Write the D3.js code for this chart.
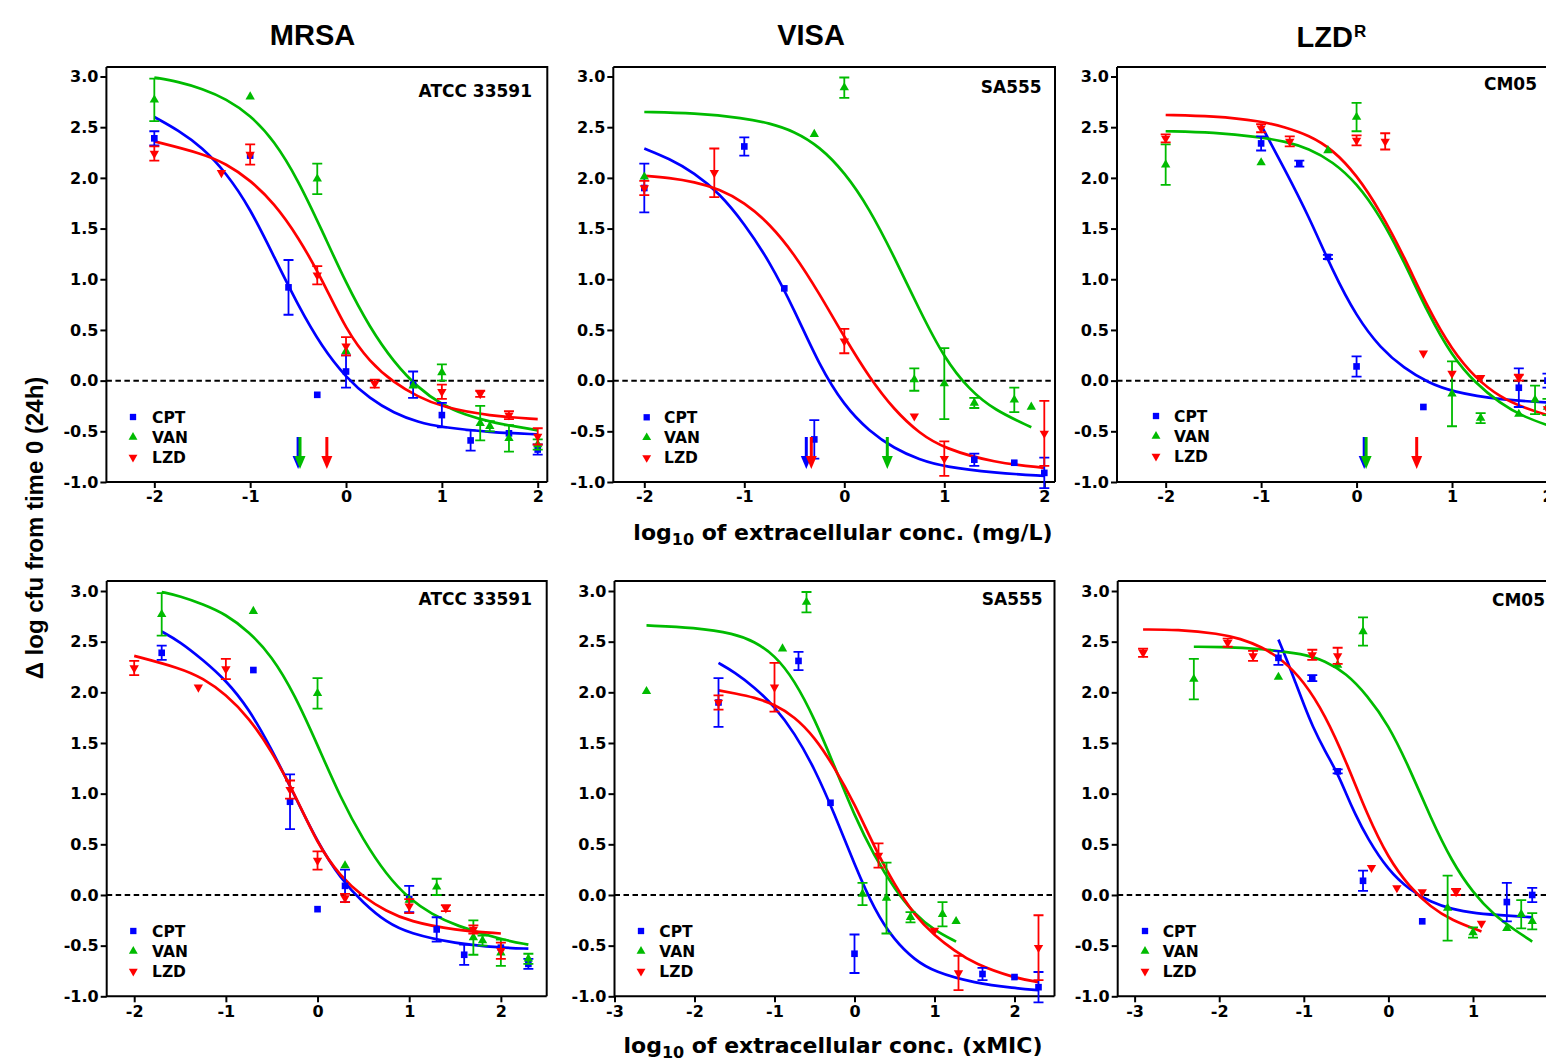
<!DOCTYPE html>
<html><head><meta charset="utf-8">
<script src="https://cdn.jsdelivr.net/npm/d3@7"></script>
<style>body{margin:0;background:#fff}svg{display:block}</style>
</head><body>
<svg id="chart" width="1546" height="1064"></svg>
<script>
// ---------------- DATA ----------------
const drugs = ["CPT", "VAN", "LZD"];
const groupTitles = ["MRSA", "VISA", "LZD"];
const strainLabels = ["ATCC 33591", "SA555", "CM05"];
const yTicks = [-1.0, -0.5, 0, 0.5, 1.0, 1.5, 2.0, 2.5, 3.0];
const xTicksMg = [-2, -1, 0, 1, 2];
const xTicksMicATCC = [-2, -1, 0, 1, 2];
const xTicksMicSA555 = [-3, -2, -1, 0, 1, 2];
const xTicksMicCM05 = [-3, -2, -1, 0, 1];

// ATCC 33591
const ATCC_CPT_mg  = [-2, -1, -0.6, -0.3, 0, 0.7, 1.0, 1.3, 1.7, 2.0];
const ATCC_CPT_mic = [-1.7, -0.7, -0.3, 0, 0.3, 1.0, 1.3, 1.6, 2.0, 2.3];
const ATCC_CPT_y   = [2.39, 2.22, 0.92, -0.14, 0.09, -0.04, -0.34, -0.59, -0.52, -0.68];
const ATCC_CPT_sd  = [0.07, 0, 0.27, 0, 0.16, 0.13, 0.12, 0.10, 0, 0.05];
const ATCC_VAN_mg  = [-2, -1, -0.3, 0, 0.7, 1.0, 1.4, 1.5, 1.7, 2.0];
const ATCC_VAN_mic = [-1.7, -0.7, 0, 0.3, 1.0, 1.3, 1.7, 1.8, 2.0, 2.3];
const ATCC_VAN_y   = [2.77, 2.80, 1.99, 0.29, -0.05, 0.08, -0.42, -0.45, -0.57, -0.63];
const ATCC_VAN_sd  = [0.21, 0, 0.15, 0, 0, 0.08, 0.17, 0.05, 0.13, 0.05];
const ATCC_LZD_mg  = [-2, -1.3, -1, -0.3, 0, 0.3, 1.0, 1.4, 1.7, 2.0];
const ATCC_LZD_mic = [-2, -1.3, -1, -0.3, 0, 0.3, 1.0, 1.4, 1.7, 2.0];
const ATCC_LZD_y   = [2.24, 2.05, 2.23, 1.04, 0.34, -0.03, -0.11, -0.13, -0.34, -0.55];
const ATCC_LZD_sd  = [0.07, 0, 0.10, 0.09, 0.09, 0.04, 0.07, 0.03, 0.04, 0.08];

// SA555
const SA555_CPT_mg  = [-2, -1, -0.6, -0.3, 1.3, 1.7, 2.0];
const SA555_CPT_mic = [-1.7, -0.7, -0.3, 0, 1.6, 2.0, 2.3];
const SA555_CPT_y   = [1.90, 2.31, 0.91, -0.58, -0.78, -0.81, -0.91];
const SA555_CPT_sd  = [0.24, 0.09, 0, 0.19, 0.06, 0, 0.15];
const SA555_VAN_mg  = [-2, -0.3, 0, 0.7, 1.0, 1.3, 1.7, 1.87];
const SA555_VAN_mic = [-2.6, -0.9, -0.6, 0.1, 0.4, 0.7, 1.1, 1.27];
const SA555_VAN_y   = [2.01, 2.43, 2.89, 0.01, -0.03, -0.22, -0.19, -0.26];
const SA555_VAN_sd  = [0, 0, 0.10, 0.11, 0.35, 0.05, 0.12, 0];
const SA555_LZD_mg  = [-2, -1.3, 0, 0.7, 1.0, 2.0];
const SA555_LZD_mic = [-1.7, -1.0, 0.3, 1.0, 1.3, 2.3];
const SA555_LZD_y   = [1.90, 2.05, 0.39, -0.35, -0.77, -0.52];
const SA555_LZD_sd  = [0.07, 0.24, 0.12, 0, 0.17, 0.32];

// CM05
const CM05_CPT_mg  = [-1, -0.6, -0.3, 0, 0.7, 1.7, 2.0];
const CM05_CPT_mic = [-1.3, -0.9, -0.6, -0.3, 0.4, 1.4, 1.7];
const CM05_CPT_y   = [2.34, 2.14, 1.22, 0.14, -0.26, -0.07, 0.0];
const CM05_CPT_sd  = [0.07, 0.03, 0.02, 0.10, 0, 0.19, 0.07];
const CM05_VAN_mg  = [-2, -1, -0.3, 0, 1.0, 1.3, 1.7, 1.87, 2.0];
const CM05_VAN_mic = [-2.3, -1.3, -0.6, -0.3, 0.7, 1.0, 1.4, 1.57, 1.7];
const CM05_VAN_y   = [2.13, 2.15, 2.27, 2.60, -0.13, -0.37, -0.33, -0.19, -0.26];
const CM05_VAN_sd  = [0.20, 0, 0, 0.14, 0.32, 0.05, 0, 0.14, 0.08];
const CM05_LZD_mg  = [-2, -1, -0.7, 0, 0.3, 0.7, 1.0, 1.3, 1.7, 2.0];
const CM05_LZD_mic = [-2.9, -1.9, -1.6, -0.9, -0.6, -0.2, 0.1, 0.4, 0.8, 1.1];
const CM05_LZD_y   = [2.39, 2.49, 2.36, 2.37, 2.36, 0.27, 0.07, 0.03, 0.03, -0.28];
const CM05_LZD_sd  = [0.04, 0.04, 0.05, 0.05, 0.08, 0, 0, 0, 0.03, 0];

// fitted curves: [x, y]
const ATCC_CPT_fitMg = [[-2,2.60],[-1.75,2.47],[-1.5,2.30],[-1.25,2.05],[-1,1.70],[-0.75,1.22],[-0.5,0.74],[-0.25,0.33],[0,0.03],[0.25,-0.18],[0.5,-0.32],[0.75,-0.41],[1,-0.46],[1.5,-0.51],[2,-0.53]];
const ATCC_VAN_fitMg = [[-2,2.99],[-1.75,2.95],[-1.5,2.88],[-1.25,2.78],[-1,2.62],[-0.75,2.37],[-0.5,1.98],[-0.25,1.48],[0,0.96],[0.25,0.52],[0.5,0.18],[0.75,-0.07],[1,-0.24],[1.25,-0.34],[1.5,-0.41],[2,-0.49]];
const ATCC_LZD_fitMg = [[-2,2.36],[-1.5,2.24],[-1.25,2.14],[-1,1.98],[-0.75,1.75],[-0.5,1.42],[-0.25,1.0],[0,0.5],[0.25,0.18],[0.5,-0.02],[0.75,-0.16],[1,-0.26],[1.5,-0.35],[2,-0.38]];
const ATCC_CPT_fitMic = [[-1.7,2.60],[-1.5,2.50],[-1.25,2.32],[-1,2.12],[-0.75,1.84],[-0.5,1.44],[-0.25,0.98],[0,0.52],[0.25,0.16],[0.5,-0.08],[0.75,-0.27],[1,-0.38],[1.5,-0.48],[2,-0.52],[2.3,-0.53]];
const ATCC_VAN_fitMic = [[-1.7,2.99],[-1.5,2.95],[-1.25,2.87],[-1,2.77],[-0.75,2.60],[-0.5,2.36],[-0.25,1.98],[0,1.48],[0.25,0.96],[0.5,0.54],[0.75,0.20],[1,-0.04],[1.25,-0.19],[1.5,-0.30],[2,-0.44],[2.3,-0.49]];
const ATCC_LZD_fitMic = [[-2,2.36],[-1.5,2.24],[-1.25,2.14],[-1,1.98],[-0.75,1.75],[-0.5,1.42],[-0.25,1.0],[0,0.5],[0.25,0.18],[0.5,-0.02],[0.75,-0.16],[1,-0.26],[1.5,-0.35],[2,-0.38]];

const SA555_CPT_fitMg = [[-2,2.29],[-1.75,2.19],[-1.5,2.05],[-1.25,1.85],[-1,1.55],[-0.75,1.18],[-0.5,0.70],[-0.25,0.15],[0,-0.25],[0.25,-0.50],[0.5,-0.67],[0.75,-0.78],[1,-0.85],[1.5,-0.91],[2,-0.94]];
const SA555_VAN_fitMg = [[-2,2.65],[-1.5,2.64],[-1,2.59],[-0.75,2.54],[-0.5,2.46],[-0.25,2.31],[0,2.06],[0.25,1.70],[0.5,1.22],[0.75,0.70],[1,0.22],[1.25,-0.09],[1.5,-0.29],[1.87,-0.46]];
const SA555_LZD_fitMg = [[-2,2.02],[-1.75,2.00],[-1.5,1.96],[-1.25,1.89],[-1,1.76],[-0.75,1.55],[-0.5,1.25],[-0.25,0.86],[0,0.43],[0.25,0.03],[0.5,-0.29],[0.75,-0.52],[1,-0.67],[1.5,-0.81],[2,-0.86]];
const SA555_CPT_fitMic = [[-1.7,2.29],[-1.5,2.20],[-1.25,2.05],[-1,1.86],[-0.75,1.60],[-0.5,1.25],[-0.25,0.80],[0,0.30],[0.25,-0.15],[0.5,-0.45],[0.75,-0.64],[1,-0.76],[1.5,-0.87],[2,-0.92],[2.3,-0.94]];
const SA555_VAN_fitMic = [[-2.6,2.66],[-2,2.64],[-1.5,2.58],[-1.25,2.50],[-1,2.37],[-0.75,2.12],[-0.5,1.74],[-0.25,1.27],[0,0.78],[0.25,0.38],[0.5,0.06],[0.75,-0.19],[1,-0.35],[1.27,-0.46]];
const SA555_LZD_fitMic = [[-1.7,2.02],[-1.5,1.99],[-1.25,1.95],[-1,1.88],[-0.75,1.76],[-0.5,1.56],[-0.25,1.26],[0,0.90],[0.25,0.47],[0.5,0.10],[0.75,-0.20],[1,-0.40],[1.25,-0.55],[1.5,-0.68],[2,-0.82],[2.3,-0.86]];

const CM05_CPT_fitMg = [[-1,2.52],[-0.75,2.08],[-0.5,1.62],[-0.25,1.08],[0,0.63],[0.25,0.32],[0.5,0.12],[0.75,-0.02],[1,-0.11],[1.5,-0.19],[2.1,-0.22]];
const CM05_VAN_fitMg = [[-2,2.46],[-1.5,2.45],[-1,2.40],[-0.75,2.36],[-0.5,2.29],[-0.25,2.16],[0,1.95],[0.25,1.62],[0.5,1.17],[0.75,0.66],[1,0.24],[1.25,-0.03],[1.5,-0.22],[1.75,-0.36],[2.1,-0.47]];
const CM05_LZD_fitMg = [[-2,2.62],[-1.5,2.61],[-1,2.56],[-0.75,2.50],[-0.5,2.42],[-0.25,2.28],[0,2.03],[0.25,1.67],[0.5,1.22],[0.75,0.71],[1,0.30],[1.25,0.02],[1.5,-0.16],[1.75,-0.27],[2.1,-0.37]];
const CM05_CPT_fitMic = [[-1.3,2.52],[-1.2,2.32],[-1.1,2.10],[-1,1.88],[-0.9,1.67],[-0.75,1.42],[-0.6,1.20],[-0.5,1.00],[-0.4,0.81],[-0.25,0.56],[0,0.24],[0.25,0.05],[0.5,-0.07],[0.75,-0.14],[1,-0.18],[1.5,-0.21],[1.7,-0.22]];
const CM05_VAN_fitMic = [[-2.3,2.45],[-2,2.45],[-1.5,2.43],[-1,2.38],[-0.75,2.31],[-0.5,2.19],[-0.25,1.97],[0,1.68],[0.25,1.25],[0.5,0.76],[0.75,0.33],[1,0.02],[1.25,-0.20],[1.5,-0.35],[1.7,-0.46]];
const CM05_LZD_fitMic = [[-2.9,2.62],[-2.5,2.62],[-2,2.58],[-1.75,2.53],[-1.5,2.45],[-1.25,2.32],[-1,2.11],[-0.75,1.78],[-0.5,1.32],[-0.25,0.79],[0,0.36],[0.25,0.08],[0.5,-0.12],[0.75,-0.25],[1.1,-0.36]];

// MIC arrows (log10 mg/L), order CPT, VAN, LZD
const ATCC_MIC = [-0.5, -0.48, -0.2];
const SA555_MIC = [-0.38, 0.43, -0.33];
const CM05_MIC = [0.08, 0.1, 0.63];

// ---------------- BUILD ----------------
const colors = {CPT: "#0000ff", VAN: "#00bb00", LZD: "#ff0000"};
function pts(xs, ys, sds) { return xs.map((x, i) => ({x, y: ys[i], sd: sds[i]})); }
function ser(xs, ys, sds, fit) { return {points: pts(xs, ys, sds), fit}; }

const panels = [
  { row: 0, xDomain: [-2.5, 2.1], xRange: [106.4, 547.3], ticks: xTicksMg, label: strainLabels[0], labelPos: [532, 96.7],
    legend: [133, 152, 417], arrows: ATCC_MIC,
    series: [ser(ATCC_CPT_mg, ATCC_CPT_y, ATCC_CPT_sd, ATCC_CPT_fitMg), ser(ATCC_VAN_mg, ATCC_VAN_y, ATCC_VAN_sd, ATCC_VAN_fitMg), ser(ATCC_LZD_mg, ATCC_LZD_y, ATCC_LZD_sd, ATCC_LZD_fitMg)] },
  { row: 0, xDomain: [-2.31, 2.107], xRange: [613.3, 1055], ticks: xTicksMg, label: strainLabels[1], labelPos: [1041.7, 92.7],
    legend: [646.7, 664, 417.3], arrows: SA555_MIC,
    series: [ser(SA555_CPT_mg, SA555_CPT_y, SA555_CPT_sd, SA555_CPT_fitMg), ser(SA555_VAN_mg, SA555_VAN_y, SA555_VAN_sd, SA555_VAN_fitMg), ser(SA555_LZD_mg, SA555_LZD_y, SA555_LZD_sd, SA555_LZD_fitMg)] },
  { row: 0, xDomain: [-2.51, 2.1], xRange: [1117, 1557], ticks: xTicksMg, label: strainLabels[2], labelPos: [1537, 90],
    legend: [1156, 1174, 416], arrows: CM05_MIC,
    series: [ser(CM05_CPT_mg, CM05_CPT_y, CM05_CPT_sd, CM05_CPT_fitMg), ser(CM05_VAN_mg, CM05_VAN_y, CM05_VAN_sd, CM05_VAN_fitMg), ser(CM05_LZD_mg, CM05_LZD_y, CM05_LZD_sd, CM05_LZD_fitMg)] },
  { row: 1, xDomain: [-2.3, 2.5], xRange: [106.7, 546.7], ticks: xTicksMicATCC, label: strainLabels[0], labelPos: [532, 605],
    legend: [133.3, 152, 931], arrows: null,
    series: [ser(ATCC_CPT_mic, ATCC_CPT_y, ATCC_CPT_sd, ATCC_CPT_fitMic), ser(ATCC_VAN_mic, ATCC_VAN_y, ATCC_VAN_sd, ATCC_VAN_fitMic), ser(ATCC_LZD_mic, ATCC_LZD_y, ATCC_LZD_sd, ATCC_LZD_fitMic)] },
  { row: 1, xDomain: [-3, 2.5], xRange: [614.5, 1054.5], ticks: xTicksMicSA555, label: strainLabels[1], labelPos: [1042.7, 605],
    legend: [641, 659.3, 931], arrows: null,
    series: [ser(SA555_CPT_mic, SA555_CPT_y, SA555_CPT_sd, SA555_CPT_fitMic), ser(SA555_VAN_mic, SA555_VAN_y, SA555_VAN_sd, SA555_VAN_fitMic), ser(SA555_LZD_mic, SA555_LZD_y, SA555_LZD_sd, SA555_LZD_fitMic)] },
  { row: 1, xDomain: [-3.2, 2.0], xRange: [1117.7, 1557.6], ticks: xTicksMicCM05, label: strainLabels[2], labelPos: [1545, 605.7],
    legend: [1145, 1162.7, 931], arrows: null,
    series: [ser(CM05_CPT_mic, CM05_CPT_y, CM05_CPT_sd, CM05_CPT_fitMic), ser(CM05_VAN_mic, CM05_VAN_y, CM05_VAN_sd, CM05_VAN_fitMic), ser(CM05_LZD_mic, CM05_LZD_y, CM05_LZD_sd, CM05_LZD_fitMic)] }
];
const rows = [
  { yRange: [482, 76.5], frameTop: 67 },
  { yRange: [996.3, 591], frameTop: 581 }
];

const svg = d3.select("#chart");
const FONT = "'DejaVu Sans', sans-serif";
const AFONT = "'Liberation Sans', Arial, sans-serif";

function symbolPath(drug, size) {
  if (drug === "CPT") return d3.symbol(d3.symbolSquare, size)();
  return d3.symbol(d3.symbolTriangle, size)();
}
const symTransform = (drug) => drug === "LZD" ? " rotate(180)" : "";

panels.forEach(p => {
  const r = rows[p.row];
  const x = d3.scaleLinear().domain(p.xDomain).range(p.xRange);
  const y = d3.scaleLinear().domain([-1, 3]).range(r.yRange);
  const g = svg.append("g");
  const x0 = p.xRange[0], x1 = p.xRange[1], yb = y(-1), yt = r.frameTop;

  // frame top & right
  g.append("path").attr("d", `M${x0},${yt}H${x1}V${yb}`).attr("fill", "none").attr("stroke", "#000").attr("stroke-width", 2);

  // zero line
  g.append("line").attr("x1", x0).attr("x2", x1).attr("y1", y(0)).attr("y2", y(0))
    .attr("stroke", "#000").attr("stroke-width", 2).attr("stroke-dasharray", "5.5,3.5");

  // axes
  const ay = g.append("g").attr("transform", `translate(${x0},0)`)
    .call(d3.axisLeft(y).tickValues(yTicks).tickSize(6).tickPadding(2).tickFormat(d => d.toFixed(1)));
  ay.select(".domain").remove();
  const ax = g.append("g").attr("transform", `translate(0,${yb})`)
    .call(d3.axisBottom(x).tickValues(p.ticks).tickSize(6).tickPadding(3).tickFormat(d => String(d)));
  ax.select(".domain").remove();
  [ay, ax].forEach(a => {
    a.selectAll("line").attr("stroke-width", 2).attr("stroke", "#000");
    a.selectAll("text").attr("font-family", FONT).attr("font-weight", "bold").attr("font-size", 16).attr("fill", "#000");
  });
  g.append("path").attr("d", `M${x0},${yt}V${yb}H${x1}`).attr("fill", "none").attr("stroke", "#000").attr("stroke-width", 2);

  // curves
  const line = d3.line().x(d => x(d[0])).y(d => y(d[1])).curve(d3.curveBasis);
  p.series.forEach((s, i) => {
    g.append("path").datum(s.fit).attr("d", line).attr("fill", "none")
      .attr("stroke", colors[drugs[i]]).attr("stroke-width", 2.7);
  });

  // error bars and markers
  p.series.forEach((s, i) => {
    const c = colors[drugs[i]];
    const eb = g.append("g").attr("stroke", c).attr("stroke-width", 1.8).attr("fill", "none");
    s.points.filter(d => d.sd > 0).forEach(d => {
      const cx = x(d.x), ya = y(d.y + d.sd), yl = y(d.y - d.sd);
      eb.append("path").attr("d", `M${cx},${ya}V${yl}M${cx - 5},${ya}H${cx + 5}M${cx - 5},${yl}H${cx + 5}`);
    });
    g.append("g").selectAll("path").data(s.points).join("path")
      .attr("d", symbolPath(drugs[i], drugs[i] === "CPT" ? 44 : 38))
      .attr("transform", d => `translate(${x(d.x)},${y(d.y)})` + symTransform(drugs[i]))
      .attr("fill", c);
  });

  // arrows (MIC)
  if (p.arrows) {
    p.arrows.forEach((m, i) => {
      const ax0 = x(m), top = yb - 45, tip = yb - 13;
      const c = colors[drugs[i]];
      g.append("line").attr("x1", ax0).attr("x2", ax0).attr("y1", top).attr("y2", tip - 8)
        .attr("stroke", c).attr("stroke-width", 3);
      g.append("path").attr("d", `M${ax0 - 5.5},${tip - 13}L${ax0 + 5.5},${tip - 13}L${ax0},${tip}Z`).attr("fill", c);
    });
  }

  // legend
  const [mx, tx, ly] = p.legend;
  drugs.forEach((dname, i) => {
    const yy = ly + i * 20.2;
    g.append("path").attr("d", symbolPath(dname, dname === "CPT" ? 40 : 34))
      .attr("transform", `translate(${mx},${yy})` + symTransform(dname)).attr("fill", colors[dname]);
    g.append("text").attr("x", tx).attr("y", yy).attr("dy", "0.36em").text(dname)
      .attr("font-family", FONT).attr("font-weight", "bold").attr("font-size", 15.5).attr("fill", "#000");
  });

  // strain label
  g.append("text").attr("x", p.labelPos[0]).attr("y", p.labelPos[1]).attr("text-anchor", "end").text(p.label)
    .attr("font-family", FONT).attr("font-weight", "bold").attr("font-size", 17).attr("fill", "#000");
});

// group titles
const titlePos = [[312.5, 44.5], [811, 44.5]];
titlePos.forEach((tp, i) => {
  svg.append("text").attr("x", tp[0]).attr("y", tp[1]).attr("text-anchor", "middle").text(groupTitles[i])
    .attr("font-family", AFONT).attr("font-weight", "bold").attr("font-size", 29);
});
const t3 = svg.append("text").attr("x", 1296.5).attr("y", 46.5)
  .attr("font-family", AFONT).attr("font-weight", "bold").attr("font-size", 29);
t3.append("tspan").text(groupTitles[2]);
t3.append("tspan").attr("font-size", 17).attr("dy", -10).attr("dx", 1).text("R");

// axis titles
function xTitle(cx, by, unit) {
  const t = svg.append("text").attr("x", cx).attr("y", by).attr("text-anchor", "middle")
    .attr("font-family", FONT).attr("font-weight", "bold").attr("font-size", 22);
  t.append("tspan").text("log");
  t.append("tspan").attr("font-size", 16).attr("dy", 5).text("10");
  t.append("tspan").attr("dy", -5).text(" of extracellular conc. (" + unit + ")");
}
xTitle(843, 540, "mg/L");
xTitle(833, 1053, "xMIC");

svg.append("text").attr("transform", "translate(43,528) rotate(-90)").attr("text-anchor", "middle")
  .attr("font-family", AFONT).attr("font-weight", "bold").attr("font-size", 24)
  .text("\u0394 log cfu from time 0 (24h)");
</script>
</body></html>
